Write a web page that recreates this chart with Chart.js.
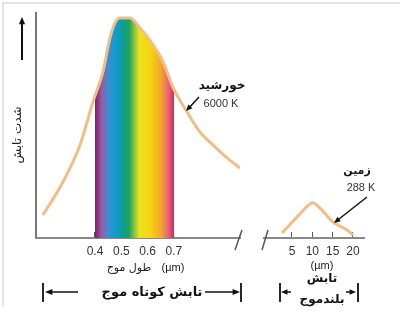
<!DOCTYPE html>
<html>
<head>
<meta charset="utf-8">
<script src="https://cdn.jsdelivr.net/npm/chart.js@4"></script>
<style>
  html, body { margin: 0; padding: 0; background: #fff; }
  #box { position: relative; width: 400px; height: 331px; }
</style>
</head>
<body>
<div id="box"><canvas id="planck"></canvas></div>
<script>
// ---- Datos ----
// Sol (6000 K): longitud de onda en µm, intensidad relativa
const SUN_UM = [0.202, 0.278, 0.343, 0.392, 0.430, 0.457, 0.476, 0.495, 0.533, 0.571, 0.621, 0.659, 0.697, 0.750, 0.799, 0.849, 0.902, 0.951];
const SUN_I  = [0.102, 0.249, 0.413, 0.604, 0.738, 0.889, 0.956, 0.978, 0.978, 0.933, 0.858, 0.782, 0.667, 0.560, 0.471, 0.413, 0.356, 0.311];

// Tierra (288 K)
const EARTH_UM = [2.54, 6.23, 9.92, 11.88, 15.08, 18.52, 20.0];
const EARTH_I  = [0.022, 0.093, 0.156, 0.133, 0.071, 0.036, 0.013];

// Ticks
const SHORT_TICKS = [0.4, 0.5, 0.6, 0.7];
const SHORT_LABELS = ["0.4", "0.5", "0.6", "0.7"];
const LONG_TICKS = [5, 10, 15, 20];
const LONG_LABELS = ["5", "10", "15", "20"];

// Espectro visible (0.4 - 0.7 µm)
const SPEC_UM = [0.400, 0.425, 0.450, 0.480, 0.505, 0.530, 0.550, 0.570, 0.615, 0.650, 0.680, 0.700];
const SPEC_COL = ["#7d1d6f", "#9a5aa0", "#3a8fd4", "#109cd0", "#0e9c94", "#1ea45a", "#8ec43c", "#efe21c", "#f5d012", "#f3a82a", "#e8607a", "#d62858"];

const AR = '"DejaVu Sans", sans-serif';
const LAT = '"Liberation Sans", Arial, sans-serif';

function spectrumFill(chart) {
  const { ctx, chartArea, scales } = chart;
  if (!chartArea || !scales.x) return "rgba(0,0,0,0)";
  const L = chartArea.left, W = chartArea.right - chartArea.left;
  const g = ctx.createLinearGradient(L, 0, chartArea.right, 0);
  const pos = v => Math.min(1, Math.max(0, (scales.x.getPixelForValue(v) - L) / W));
  const p0 = pos(SPEC_UM[0]), p1 = pos(SPEC_UM[SPEC_UM.length - 1]);
  g.addColorStop(0, "rgba(255,255,255,0)");
  g.addColorStop(Math.max(0, p0 - 0.0005), "rgba(255,255,255,0)");
  SPEC_UM.forEach((v, i) => g.addColorStop(pos(v), SPEC_COL[i]));
  g.addColorStop(Math.min(1, p1 + 0.0005), "rgba(255,255,255,0)");
  g.addColorStop(1, "rgba(255,255,255,0)");
  return g;
}

function arrow(ctx, x1, y1, x2, y2, head, w) {
  const a = Math.atan2(y2 - y1, x2 - x1);
  ctx.lineWidth = w || 1.5;
  ctx.beginPath();
  ctx.moveTo(x1, y1);
  ctx.lineTo(x2 - Math.cos(a) * head * 0.8, y2 - Math.sin(a) * head * 0.8);
  ctx.stroke();
  ctx.beginPath();
  ctx.moveTo(x2, y2);
  ctx.lineTo(x2 - head * Math.cos(a - 0.4), y2 - head * Math.sin(a - 0.4));
  ctx.lineTo(x2 - head * Math.cos(a + 0.4), y2 - head * Math.sin(a + 0.4));
  ctx.closePath();
  ctx.fill();
}

function text(ctx, s, x, y, font, color) {
  ctx.font = font;
  ctx.fillStyle = color || "#111";
  ctx.textAlign = "center";
  ctx.textBaseline = "middle";
  ctx.fillText(s, x, y);
}

// ---- Anotaciones ----
const decoraciones = {
  id: "decoraciones",
  afterDraw(chart) {
    const ctx = chart.ctx;
    ctx.save();

    // marco gris
    ctx.strokeStyle = "#e4e4e4";
    ctx.lineWidth = 2;
    ctx.beginPath();
    ctx.moveTo(400, 3); ctx.lineTo(3, 3); ctx.lineTo(3, 307);
    ctx.stroke();

    // cortes del eje
    ctx.strokeStyle = "#555";
    ctx.lineWidth = 1.5;
    ctx.beginPath();
    ctx.moveTo(242, 230); ctx.lineTo(235, 250);
    ctx.moveTo(268, 230); ctx.lineTo(262, 250);
    ctx.stroke();

    // eje y: flecha + título
    ctx.strokeStyle = "#111"; ctx.fillStyle = "#111";
    arrow(ctx, 22, 60, 22, 17, 8, 2);
    ctx.save();
    ctx.translate(18, 135);
    ctx.rotate(-Math.PI / 2);
    text(ctx, "شدت تابش", 0, 0, "12px " + AR, "#222");
    ctx.restore();

    // sol
    text(ctx, "خورشید", 222, 86, "bold 12px " + AR, "#111");
    text(ctx, "6000 K", 221, 104, "11px " + LAT, "#333");
    ctx.strokeStyle = "#111"; ctx.fillStyle = "#111";
    arrow(ctx, 199, 97, 186, 111, 7, 1.5);

    // tierra
    text(ctx, "زمین", 357, 171, "bold 11px " + AR, "#111");
    text(ctx, "288 K", 361, 188, "11px " + LAT, "#333");
    ctx.strokeStyle = "#111"; ctx.fillStyle = "#111";
    arrow(ctx, 367, 197, 334, 223, 7, 1.5);

    // títulos de eje x
    text(ctx, "طول موج", 129, 268, "11px " + AR, "#222");
    text(ctx, "(µm)", 173, 268, "11px " + LAT, "#222");
    text(ctx, "(µm)", 322, 266, "11px " + LAT, "#222");

    // rangos inferiores
    text(ctx, "تابش کوتاه موج", 152, 293, "bold 13px " + AR, "#111");
    ctx.strokeStyle = "#111"; ctx.fillStyle = "#111";
    arrow(ctx, 78, 292, 45, 292, 8, 1.5);
    arrow(ctx, 205, 292, 240, 292, 8, 1.5);
    arrow(ctx, 291, 292, 281, 292, 7, 1.5);
    arrow(ctx, 346, 292, 356, 292, 7, 1.5);
    ctx.lineWidth = 1.8;
    ctx.beginPath();
    [43, 241, 280, 358].forEach(x => { ctx.moveTo(x, 283); ctx.lineTo(x, 302); });
    ctx.stroke();
    text(ctx, "تابش", 322, 279, "bold 12px " + AR, "#111");
    text(ctx, "بلندموج", 322, 300, "bold 12px " + AR, "#111");

    ctx.restore();
  }
};

const fixHeight = s => { s.height = 93; };
const tickLabelFont = { family: LAT, size: 12 };

const chart = new Chart(document.getElementById("planck"), {
  type: "line",
  data: {
    datasets: [
      {
        label: "خورشید",
        data: SUN_UM.map((x, i) => ({ x, y: SUN_I[i] })),
        xAxisID: "x",
        borderColor: "#f0be86",
        borderWidth: 3,
        pointRadius: 0,
        cubicInterpolationMode: "monotone",
        fill: "origin",
        backgroundColor: c => spectrumFill(c.chart)
      },
      {
        label: "زمین",
        data: EARTH_UM.map((x, i) => ({ x, y: EARTH_I[i] })),
        xAxisID: "x2",
        borderColor: "#f0be86",
        borderWidth: 3,
        pointRadius: 0,
        tension: 0.3,
        fill: false
      }
    ]
  },
  options: {
    responsive: true,
    maintainAspectRatio: false,
    animation: false,
    layout: { padding: { left: 36, right: 36, top: 13, bottom: 0 } },
    plugins: { legend: { display: false }, tooltip: { enabled: false } },
    scales: {
      y: {
        min: 0, max: 1,
        ticks: { display: false },
        grid: { display: false },
        border: { display: true, color: "#777", width: 2 },
        afterFit: s => { s.width = 0; }
      },
      x: {
        type: "linear", position: "bottom", stack: "abajo", stackWeight: 204,
        min: 0.17567, max: 0.95133,
        afterBuildTicks: s => { s.ticks = SHORT_TICKS.map(v => ({ value: v })); },
        ticks: {
          autoSkip: false, maxRotation: 0, padding: 12, color: "#333", font: tickLabelFont,
          callback: v => SHORT_LABELS[SHORT_TICKS.indexOf(v)]
        },
        grid: { display: true, drawOnChartArea: false, tickLength: -6, color: "#555", lineWidth: 1 },
        border: { display: true, color: "#888", width: 2 },
        afterFit: fixHeight
      },
      xgap: {
        type: "linear", position: "bottom", stack: "abajo", stackWeight: 24,
        ticks: { display: false },
        grid: { display: false },
        border: { display: false },
        afterFit: fixHeight
      },
      x2: {
        type: "linear", position: "bottom", stack: "abajo", stackWeight: 100,
        min: -1.885, max: 22.705,
        afterBuildTicks: s => { s.ticks = LONG_TICKS.map(v => ({ value: v })); },
        ticks: {
          autoSkip: false, maxRotation: 0, padding: 12, color: "#333", font: tickLabelFont,
          callback: v => LONG_LABELS[LONG_TICKS.indexOf(v)]
        },
        grid: { display: true, drawOnChartArea: false, tickLength: -6, color: "#555", lineWidth: 1 },
        border: { display: true, color: "#888", width: 2 },
        afterFit: fixHeight
      }
    }
  },
  plugins: [decoraciones]
});
</script>
</body>
</html>
